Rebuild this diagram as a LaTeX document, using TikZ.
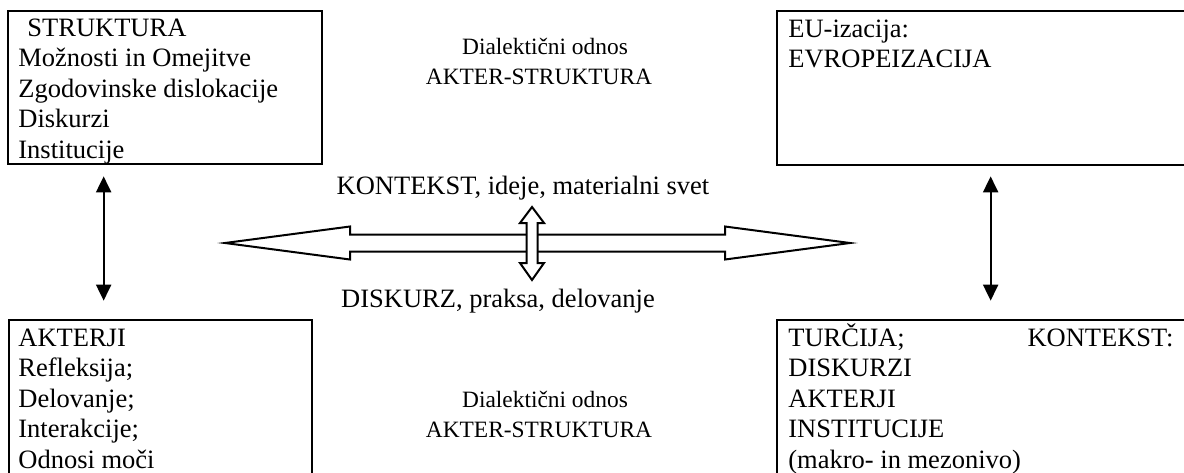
\documentclass[tikz,border=0pt]{standalone}
\usepackage{fontspec}
\setmainfont{Liberation Serif}
\usetikzlibrary{arrows.meta,calc,fit}
\begin{document}
\begin{tikzpicture}[x=0.5pt,y=-0.5pt,
  box/.style={draw, line width=1.35pt, inner sep=0pt},
  txt/.style={inner sep=0pt, anchor=base west, font=\fontsize{13.25}{15.3}\selectfont},
  mid/.style={inner sep=0pt, anchor=base, font=\fontsize{11.7}{13}\selectfont},
  thinarrow/.style={line width=1pt, {Triangle[width=7.5pt,length=8pt]}-{Triangle[width=7.5pt,length=8pt]}},
  hollow/.style={draw, line width=1pt, fill=white, line join=miter}]
\useasboundingbox (0,0) rectangle (1184,472);
\clip (0,0) rectangle (1184,472);
% boxes
\node[box, fit={(8,11) (322,164)}] (tl) {};
\node[box, fit={(777,11) (1200,165)}] (tr) {};
\node[box, fit={(9,320) (312,490)}] (bl) {};
\node[box, fit={(777,320) (1200,490)}] (br) {};
% box texts
\node[txt] (tlt) at (18,36) {\parbox[t]{160pt}{\hspace*{4.5pt}STRUKTURA\\Možnosti in Omejitve\\Zgodovinske dislokacije\\Diskurzi\\Institucije}};
\node[txt] (trt) at (788,37) {\parbox[t]{190pt}{EU-izacija:\\EVROPEIZACIJA}};
\node[txt] (blt) at (18,346) {\parbox[t]{150pt}{AKTERJI\\Refleksija;\\Delovanje;\\Interakcije;\\Odnosi moči}};
\node[txt] (brt) at (788,346) {\parbox[t]{192.5pt}{TURČIJA;\hfill KONTEKST:\\DISKURZI\\AKTERJI\\INSTITUCIJE\\(makro- in mezonivo)}};
% middle texts
\node[mid] (d1) at (545,54) {Dialektični odnos};
\node[mid] (a1) at (539,84) {AKTER-STRUKTURA};
\node[mid] (d2) at (545,407) {Dialektični odnos};
\node[mid] (a2) at (539,437) {AKTER-STRUKTURA};
\node[txt, anchor=base] (kon) at (523,194) {KONTEKST, ideje, materialni svet};
\node[txt, anchor=base] (dis) at (498,307) {DISKURZ, praksa, delovanje};
% thin vertical arrows
\draw[thinarrow] ($(tl.south west)+(97,11)$) -- ($(bl.north west)+(96,-18)$);
\draw[thinarrow] ($(tr.south west)+(215,10)$) -- ($(br.north west)+(215,-18)$);
% hollow double arrows
\draw[hollow] (225,243) -- (350,226.5) -- (350,234.5) -- (725,234.5) -- (725,226.5) -- (850,243)
  -- (725,259.5) -- (725,251.5) -- (350,251.5) -- (350,259.5) -- cycle;
\draw[hollow] (532,207) -- (544,223) -- (537.5,223) -- (537.5,263) -- (544,263) -- (532,280)
  -- (520,263) -- (526.5,263) -- (526.5,223) -- (520,223) -- cycle;
\end{tikzpicture}
\end{document}
